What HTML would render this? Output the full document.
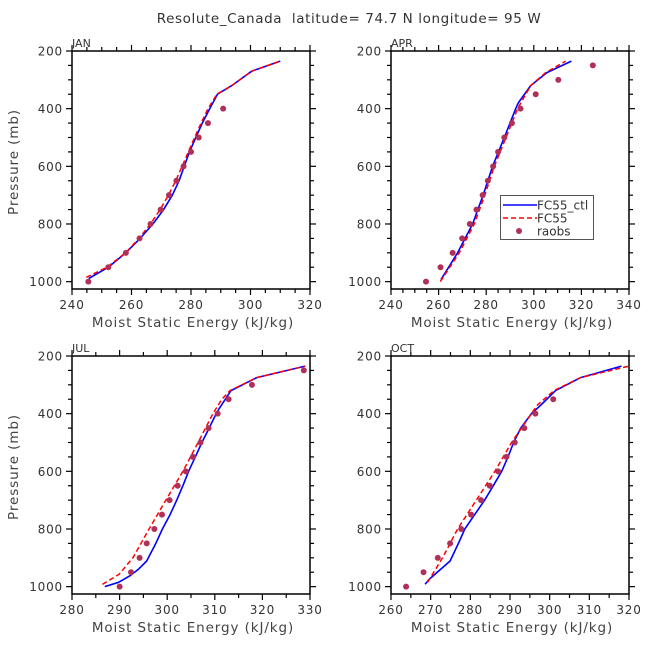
<!DOCTYPE html>
<html><head><meta charset="utf-8"><style>
html,body{margin:0;padding:0;background:#fff;}
svg{display:block;font-family:"DejaVu Sans","Liberation Sans",sans-serif;}
text{white-space:pre;}
</style></head><body>
<svg id="chart" width="648" height="648" viewBox="0 0 648 648" xmlns="http://www.w3.org/2000/svg">
<rect width="648" height="648" fill="#fff"/>
<text x="349" y="23" text-anchor="middle" font-size="13.5" letter-spacing="0.6" fill="#333">Resolute_Canada  latitude= 74.7 N longitude= 95 W</text>
</svg>
<script>
// ---- data ----
const monthNames = ["JAN","APR","JUL","OCT"];
const raobsP = [1000,950,900,850,800,750,700,650,600,550,500,450,400,350,300,250];
const janRaobs = [245.5,252.2,258.1,262.7,266.4,269.8,272.6,275.1,277.5,280,282.6,285.7,290.8];
const aprRaobs = [254.7,260.8,265.9,269.9,273.1,275.9,278.5,280.7,282.9,285,287.6,290.8,294.4,300.8,310.3,324.8];
const julRaobs = [290,292.4,294.2,295.7,297.3,298.9,300.5,302.2,303.9,305.4,307,308.7,310.6,312.9,317.8,328.7];
const octRaobs = [263.8,268.2,271.8,274.9,277.7,280.2,282.7,284.9,287,289.1,291.2,293.6,296.4,300.9];

const janCtlP = [989,950,900,850,800,750,700,650,600,550,500,450,400,350,320,270,235];
const janCtl  = [245.6,252.2,258.1,262.9,267.2,270.8,273.7,276,277.7,279.5,281.6,283.8,286.3,288.9,293.7,300.4,310];
const janFcP  = [985,950,900,850,800,750,700,650,600,550,500,450,400,350,320,270,235];
const janFc   = [244.8,251.8,258,262.5,266.4,269.6,272.4,274.9,277,279.1,281.2,283.4,285.7,288.7,293.7,300.4,310];

const aprCtlP = [993,900,800,700,600,500,400,380,320,275,235];
const aprCtl  = [261,268,274.3,278.7,282.7,287.6,292.4,293.5,298.7,305.5,315.8];
const aprFcP  = [1000,900,800,700,600,500,400,320,275,235];
const aprFc   = [260.7,268.7,275,279.4,283.4,288.3,293.2,298.7,305,313.4];

const julCtlP = [1000,985,962,939,911,850,800,750,700,650,600,550,500,450,400,380,320,275,235];
const julCtl  = [286.9,289.8,292.2,294,295.7,297.6,299,300.6,302,303.3,304.5,305.9,307.3,308.8,310.3,311,313.4,318.8,329];
const julFcP  = [992,957,900,800,700,600,500,400,350,320,275,235];
const julFc   = [286.4,289.9,292.8,296.2,299.7,303.3,306.5,309.6,311.5,313.2,318.8,329];

const octCtlP = [992,975,911,850,800,750,700,650,600,550,500,450,400,370,320,275,235];
const octCtl  = [268.6,269.6,274.9,277,278.6,281.1,283.6,285.8,287.9,289.5,290.9,292.7,295.4,297.8,301.5,307.8,318.1];
const octFcP  = [985,900,800,700,600,500,400,370,320,275,235];
const octFc   = [269.2,273,276.8,281.5,286.2,290.4,295.4,296.9,301.1,307.8,320];

const xMins = [240,240,280,260];
const xMaxs = [320,340,330,320];
const xMajor = [20,20,10,10];
const yTicks = [200,400,600,800,1000];
const legendLabels = ["FC55_ctl","FC55","raobs"];

// ---- drawing ----
const NS="http://www.w3.org/2000/svg";
const svg=document.getElementById('chart');
function mk(tag,attrs,parent){const e=document.createElementNS(NS,tag);for(const k in attrs)e.setAttribute(k,attrs[k]);(parent||svg).appendChild(e);return e;}
const panels=[
 {L:72,R:310,T:51,B:289,ctl:[janCtlP,janCtl],fc:[janFcP,janFc],ob:janRaobs,ylab:true},
 {L:391,R:629,T:51,B:289,ctl:[aprCtlP,aprCtl],fc:[aprFcP,aprFc],ob:aprRaobs,ylab:false},
 {L:72,R:310,T:356,B:594,ctl:[julCtlP,julCtl],fc:[julFcP,julFc],ob:julRaobs,ylab:true},
 {L:391,R:629,T:356,B:594,ctl:[octCtlP,octCtl],fc:[octFcP,octFc],ob:octRaobs,ylab:false}
];
const pTop=200,pBot=1000,pLow=1025.5;
panels.forEach((p,i)=>{
  const g=mk('g',{});
  
  
  const y1000=p.T+(p.B-p.T)*(800/(pLow-pTop));
  const sx=v=>p.L+(v-xMins[i])/(xMaxs[i]-xMins[i])*(p.R-p.L);
  const sy=v=>p.T+(v-pTop)/(pBot-pTop)*(y1000-p.T);
  for(let v=xMins[i];v<=xMaxs[i]+1e-6;v+=5){
    const maj=Math.abs((v-xMins[i])%xMajor[i])<1e-6;const len=maj?6:4;const x=sx(v);
    mk('line',{x1:x,x2:x,y1:p.B,y2:p.B+len,stroke:'#000','stroke-width':1.2},g);
    mk('line',{x1:x,x2:x,y1:p.T,y2:p.T-len,stroke:'#000','stroke-width':1.2},g);
    if(maj){const t=mk('text',{x:x,y:p.B+20,'text-anchor':'middle','font-size':12,'letter-spacing':0.8,fill:'#333'},g);t.textContent=v;
      }
  }
  for(let v=200;v<=1000;v+=50){
    const maj=v%200===0;const len=maj?6:4;const y=sy(v);
    mk('line',{x1:p.L-len,x2:p.L,y1:y,y2:y,stroke:'#000','stroke-width':1.2},g);
    mk('line',{x1:p.R,x2:p.R+len,y1:y,y2:y,stroke:'#000','stroke-width':1.2},g);
  }
  yTicks.forEach(v=>{const t=mk('text',{x:p.L-9,y:sy(v)+4.5,'text-anchor':'end','font-size':12,'letter-spacing':0.8,fill:'#333'},g);t.textContent=v;
    });
  mk('rect',{x:p.L,y:p.T,width:p.R-p.L,height:p.B-p.T,fill:'none',stroke:'#000','stroke-width':1.5},g);
  const ml=mk('text',{x:p.L,y:p.T-4,'font-size':11,fill:'#333'},g);ml.textContent=monthNames[i];
  
  const xt=mk('text',{x:(p.L+p.R)/2+2,y:p.B+38,'text-anchor':'middle','font-size':13.5,'letter-spacing':0.9,fill:'#444'},g);xt.textContent='Moist Static Energy (kJ/kg)';
  
  if(p.ylab){const yt=mk('text',{x:0,y:0,'text-anchor':'middle','font-size':13.5,'letter-spacing':0.9,fill:'#444',transform:`translate(18,${(p.T+p.B)/2-8}) rotate(-90)`},g);yt.textContent='Pressure (mb)';
    }
  const pts=(P,X)=>P.map((pp,k)=>sx(X[k]).toFixed(1)+','+sy(pp).toFixed(1)).join(' ');
  const lc=mk('polyline',{points:pts(p.ctl[0],p.ctl[1]),fill:'none',stroke:'#0000ff','stroke-width':1.6,'stroke-linejoin':'round'},g);
  
  const lf=mk('polyline',{points:pts(p.fc[0],p.fc[1]),fill:'none',stroke:'#ff0000','stroke-width':1.5,'stroke-dasharray':'5,3'},g);
  
  p.ob.forEach((v,k)=>{const c=mk('circle',{cx:sx(v),cy:sy(raobsP[k]),r:3,fill:'#b0305a'},g);
    });
});
const lg=mk('g',{});


mk('rect',{x:500.5,y:195.5,width:93,height:44,fill:'#fff',stroke:'#555','stroke-width':1},lg);
const ly=[205,218,231];
legendLabels.forEach((lab,k)=>{
  if(k===0)mk('line',{x1:503,x2:537,y1:ly[k],y2:ly[k],stroke:'#0000ff','stroke-width':1.6},lg);
  if(k===1)mk('line',{x1:503,x2:537,y1:ly[k],y2:ly[k],stroke:'#ff0000','stroke-width':1.5,'stroke-dasharray':'5,3'},lg);
  if(k===2)mk('circle',{cx:519,cy:ly[k],r:3,fill:'#b0305a'},lg);
  const t=mk('text',{x:537,y:ly[k]+4.5,'font-size':12,fill:'#333'},lg);t.textContent=lab;
  
});
</script>
</body></html>
